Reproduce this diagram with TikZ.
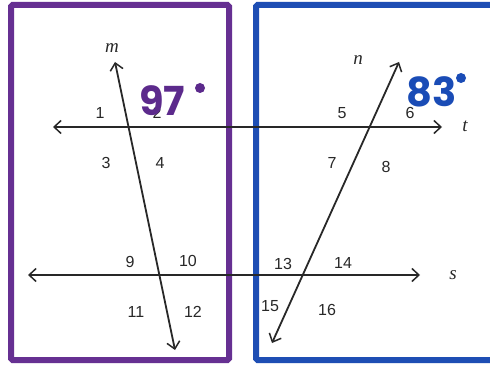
\documentclass[tikz,border=0pt]{standalone}
\usepackage{fontspec}
\setmainfont{Liberation Sans}
\newfontfamily\lblfont{Liberation Serif}
\newfontfamily\handfont{Poppins}
\usetikzlibrary{arrows.meta}
\definecolor{boxpurple}{RGB}{102,48,146}
\definecolor{boxblue}{RGB}{30,78,180}
\definecolor{inkpurple}{RGB}{92,42,140}
\definecolor{inkblue}{RGB}{26,76,182}
\definecolor{linegray}{RGB}{40,40,40}
\begin{document}
\begin{tikzpicture}[x=1pt,y=-1pt,
  ln/.style={draw=linegray,line width=1.8pt,{Straight Barb[length=7pt,width=13pt,line width=1.5pt]}-{Straight Barb[length=7pt,width=13pt,line width=1.5pt]}},
  num/.style={font=\fontsize{16}{16}\selectfont,text=linegray,inner sep=0pt},
  var/.style={font=\lblfont\itshape\fontsize{19}{19}\selectfont,text=linegray,inner sep=0pt},
  hand/.style={font=\handfont\bfseries\fontsize{40}{40}\selectfont,inner sep=0pt},
  frame/.style={line width=6pt,rounded corners=1.5pt}]
\useasboundingbox (0,0) rectangle (490,366);
\clip (0,0) rectangle (490,366);
\fill[white] (0,0) rectangle (490,366);
% frames
\draw[frame,boxpurple] (11,5) rectangle (229,360);
\draw[frame,boxblue] (256,5) rectangle (493,360);
% line end points
\coordinate (tL) at (53,127);
\coordinate (tR) at (442,127);
\coordinate (sL) at (28,275);
\coordinate (sR) at (420,275);
\coordinate (mT) at (115,62);
\coordinate (mB) at (175,350);
\coordinate (nT) at (399,62);
\coordinate (nB) at (272,343);
\draw[ln] (tL) -- (tR);
\draw[ln] (sL) -- (sR);
\draw[ln] (mT) -- (mB);
\draw[ln] (nB) -- (nT);
% line labels
\node[var] (lm) at (112,48) {m};
\node[var] (ln) at (358,60) {n};
\node[var] (lt) at (465,126) {t};
\node[var] (ls) at (453,275) {s};
% angle numbers
\node[num] (a1) at (100,113) {1};
\node[num] (a2) at (157,113) {2};
\node[num] (a3) at (106,163) {3};
\node[num] (a4) at (160,163) {4};
\node[num] (a5) at (342,113) {5};
\node[num] (a6) at (410,113) {6};
\node[num] (a7) at (332,163) {7};
\node[num] (a8) at (386,167) {8};
\node[num] (a9) at (130,262) {9};
\node[num] (a10) at (188,261) {10};
\node[num] (a11) at (136,312) {11};
\node[num] (a12) at (193,312) {12};
\node[num] (a13) at (283,264) {13};
\node[num] (a14) at (343,263) {14};
\node[num] (a15) at (270,306) {15};
\node[num] (a16) at (327,310) {16};
% handwritten angles
\node[hand,text=inkpurple] (h97) at (162,101) {97};
\fill[inkpurple] (200,88) circle (5);
\node[hand,text=inkblue] (h83) at (432,92) {83};
\fill[inkblue] (461,78) circle (5);
\end{tikzpicture}
\end{document}
